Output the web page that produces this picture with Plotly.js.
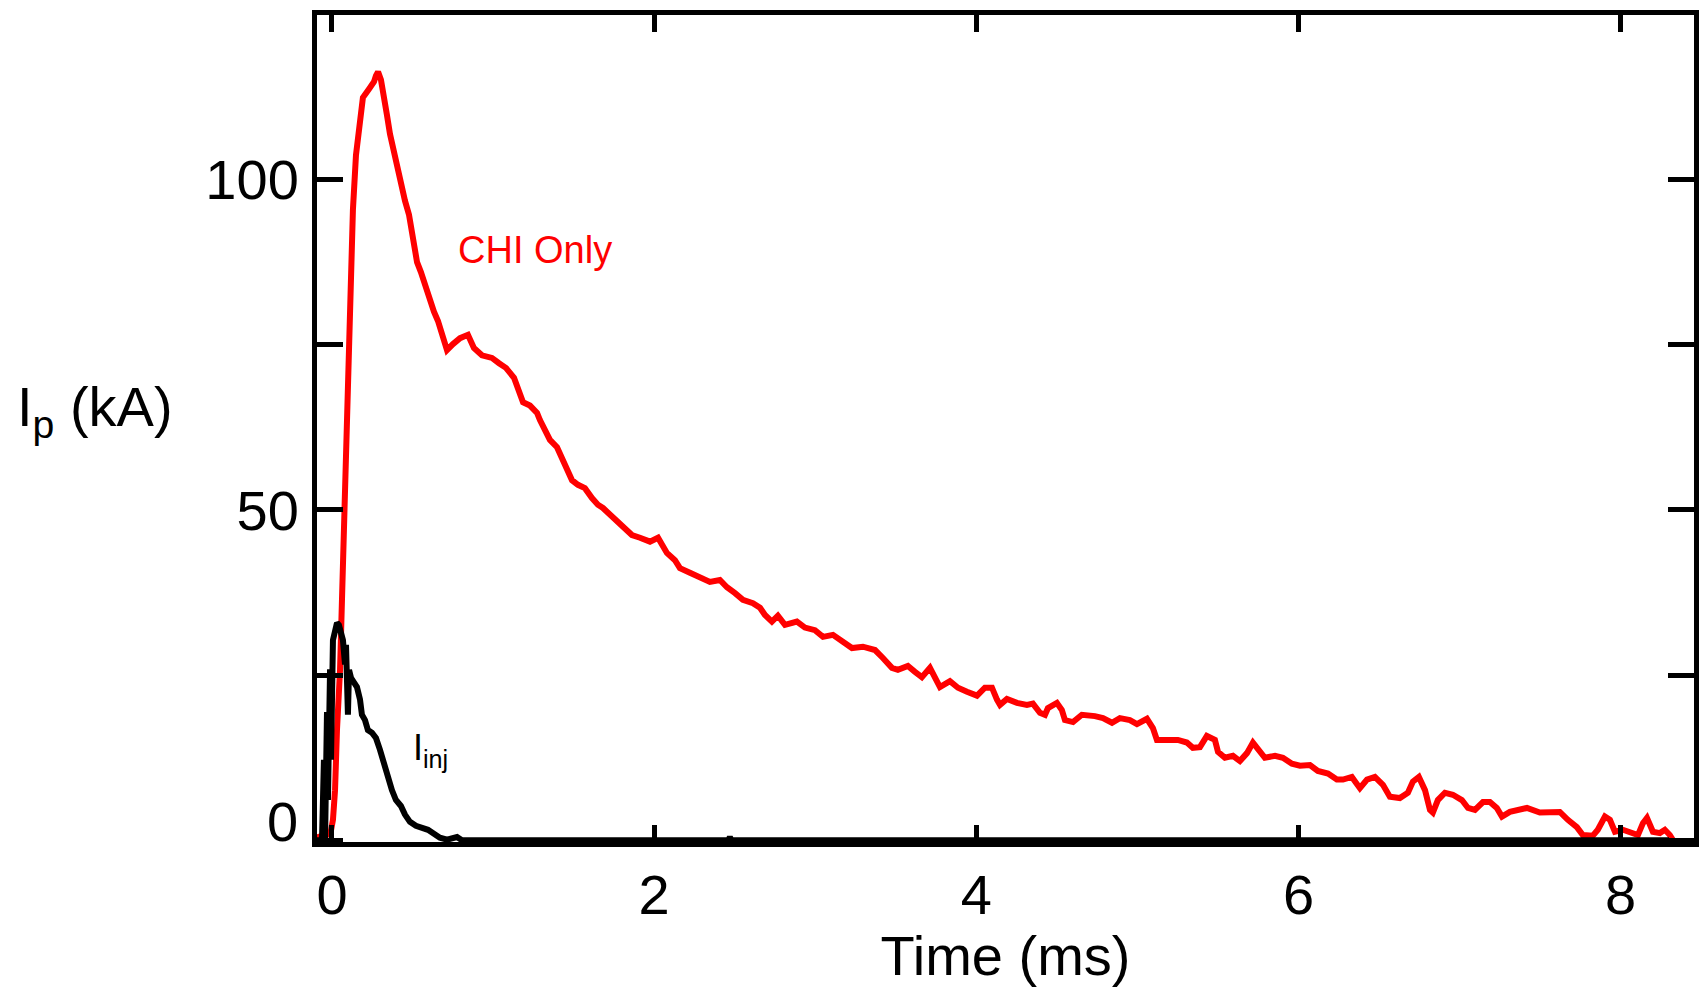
<!DOCTYPE html>
<html>
<head>
<meta charset="utf-8">
<script src="https://cdn.plot.ly/plotly-3.0.1.min.js"></script>
<style>
html,body{margin:0;padding:0;background:#fff;}
#chart{width:1700px;height:987px;}
</style>
</head>
<body>
<div id="chart"></div>
<script>
// CHI Only plasma current (kA) vs time (ms)
const chiTime = [-0.10,-0.06,-0.01,0.006,0.019,0.031,0.05,0.062,0.074,0.087,0.093,0.112,0.13,0.149,0.174,0.192,0.23,0.261,0.273,0.286,0.304,0.323,0.341,0.36,0.385,0.403,0.428,0.453,0.478,0.497,0.515,0.528,0.552,0.577,0.602,0.633,0.658,0.683,0.714,0.751,0.795,0.844,0.881,0.931,0.993,1.037,1.08,1.13,1.167,1.186,1.229,1.273,1.291,1.322,1.353,1.397,1.428,1.459,1.49,1.527,1.57,1.614,1.651,1.682,1.726,1.769,1.806,1.862,1.912,1.974,2.024,2.055,2.079,2.129,2.16,2.222,2.284,2.346,2.408,2.452,2.502,2.551,2.613,2.657,2.688,2.731,2.768,2.812,2.886,2.936,2.998,3.048,3.11,3.153,3.228,3.296,3.371,3.42,3.476,3.513,3.575,3.619,3.662,3.712,3.755,3.774,3.836,3.886,3.942,4.004,4.053,4.097,4.128,4.147,4.19,4.252,4.314,4.351,4.395,4.426,4.444,4.5,4.531,4.55,4.6,4.655,4.736,4.786,4.842,4.891,4.953,4.997,5.059,5.096,5.121,5.183,5.251,5.307,5.344,5.388,5.431,5.481,5.5,5.543,5.593,5.636,5.68,5.717,5.748,5.791,5.854,5.903,5.959,6.009,6.071,6.12,6.183,6.238,6.276,6.331,6.381,6.425,6.474,6.524,6.567,6.629,6.679,6.71,6.747,6.785,6.816,6.834,6.865,6.909,6.958,7.014,7.052,7.095,7.145,7.188,7.231,7.263,7.312,7.418,7.498,7.622,7.672,7.728,7.765,7.827,7.858,7.902,7.933,7.964,8.014,8.07,8.107,8.138,8.163,8.2,8.243,8.274,8.305,8.336];
const chiCurrent = [0.4,0.7,1.0,3.1,7.6,16.7,25.8,36.4,47.0,60.6,69.7,83.0,95.4,103.7,109.0,112.4,113.7,114.8,115.7,116.3,115.1,112.8,109.8,106.9,104.0,102.2,99.2,96.8,94.7,92.4,89.7,87.5,86.0,84.0,81.8,80.0,78.6,76.9,74.2,75.1,76.0,76.5,74.5,73.4,73.0,72.2,71.5,70.0,67.9,66.3,65.8,64.7,63.6,62.1,60.6,59.5,57.9,56.1,54.5,53.8,53.3,51.8,50.8,50.3,49.3,48.5,47.4,46.2,45.8,45.2,45.8,44.7,43.5,42.4,41.2,40.5,39.7,39.1,39.4,38.3,37.4,36.4,35.9,35.2,34.1,33.1,34.0,32.6,33.1,32.2,31.8,30.8,31.1,30.3,29.1,29.3,28.8,27.6,26.1,25.8,26.4,25.5,24.7,26.1,24.3,23.2,24.1,23.1,22.5,21.9,23.1,23.1,21.3,20.5,21.4,20.8,20.5,20.7,19.3,19.0,20.0,20.8,19.7,18.2,17.9,19.0,18.8,18.5,17.8,18.5,18.2,17.6,18.4,17.0,15.2,15.2,15.2,14.8,14.0,14.1,15.8,15.2,13.4,12.5,12.8,12.0,13.2,14.8,13.7,12.5,12.8,12.5,11.6,11.3,11.4,10.5,10.1,9.2,9.2,9.6,7.9,9.2,9.6,8.4,6.6,6.4,7.2,8.9,9.6,7.6,4.6,4.2,6.1,7.2,6.9,6.1,4.9,4.6,5.8,5.8,4.9,3.6,4.3,4.9,4.2,4.3,3.1,2.0,0.8,0.7,1.6,3.6,3.1,1.3,1.6,1.1,0.8,2.6,3.4,1.3,1.1,1.6,0.8,-0.4];

// Injector current I_inj (kA) vs time (ms)
const injTime = [-0.118,-0.062,-0.05,-0.043,-0.031,-0.025,-0.012,-0.006,0.006,0.019,0.031,0.043,0.056,0.068,0.081,0.087,0.099,0.106,0.118,0.137,0.155,0.174,0.186,0.205,0.223,0.248,0.273,0.298,0.323,0.348,0.372,0.397,0.428,0.453,0.484,0.521,0.559,0.596,0.633,0.67,0.714,0.776,0.807,2.46,2.47,2.48,8.3];
const injCurrent = [0,0,12.2,0,19.4,6.1,25.9,12.2,30.3,32.1,32.9,32.6,31.5,30.3,26.6,29.6,19.0,25.8,24.6,24.0,23.2,21.3,19.0,18.2,16.7,16.3,15.5,13.7,11.4,9.6,7.6,6.1,5.2,3.9,2.8,2.2,1.9,1.6,1.0,0.4,0.1,0.5,0,0,0.5,0,0];

const xTickVals = [0,2,4,6,8];
const xTickText = ['0','2','4','6','8'];
const yTickVals = [0,25,50,75,100];
const yTickText = ['','','50','','100'];
const yZeroLabel = '0';

const FONT = 'Liberation Sans, Arial, Helvetica, sans-serif';

const traces = [
  {x: chiTime, y: chiCurrent, type: 'scatter', mode: 'lines',
   line: {color: '#ff0000', width: 6}, hoverinfo: 'skip', showlegend: false},
  {x: injTime, y: injCurrent, type: 'scatter', mode: 'lines',
   line: {color: '#000000', width: 6}, hoverinfo: 'skip', showlegend: false}
];

const layout = {
  width: 1700, height: 987,
  paper_bgcolor: '#ffffff', plot_bgcolor: '#ffffff',
  margin: {l: 317, r: 6, t: 15, b: 145, pad: 0},
  showlegend: false,
  font: {family: FONT, color: '#000000', size: 56},
  xaxis: {
    range: [-0.093, 8.455], autorange: false,
    tickvals: xTickVals, ticktext: xTickText,
    ticks: 'inside', ticklen: 17, tickwidth: 5, tickcolor: '#000',
    showline: true, linewidth: 5, linecolor: '#000', mirror: 'ticks',
    showgrid: false, zeroline: false,
    tickfont: {family: FONT, size: 56, color: '#000'},
    ticklabelstandoff: 0,
    title: {text: 'Time (ms)', font: {family: FONT, size: 56, color: '#000'}, standoff: 20}
  },
  yaxis: {
    range: [-0.25, 124.9], autorange: false,
    tickvals: yTickVals, ticktext: yTickText,
    ticks: 'inside', ticklen: 26, tickwidth: 5, tickcolor: '#000',
    showline: true, linewidth: 5, linecolor: '#000', mirror: 'ticks',
    showgrid: false, zeroline: false,
    tickfont: {family: FONT, size: 56, color: '#000'},
    ticklabelstandoff: 2
  },
  annotations: [
    {text: 'CHI Only', x: 0.77, y: 89.4, xref: 'x', yref: 'y', xanchor: 'left', yanchor: 'middle',
     showarrow: false, font: {family: FONT, size: 38, color: '#ff0000'}},
    {text: 'I<sub>inj</sub>', x: 0.49, y: 13.6, xref: 'x', yref: 'y', xanchor: 'left', yanchor: 'middle',
     showarrow: false, font: {family: FONT, size: 36, color: '#000'}},
    {text: 'I<sub>p</sub> (kA)', x: -0.2195, y: 65, xref: 'paper', yref: 'y', xanchor: 'left', yanchor: 'middle',
     showarrow: false, font: {family: FONT, size: 56, color: '#000'}},
    {text: yZeroLabel, x: -0.0125, y: 2.8, xref: 'paper', yref: 'y', xanchor: 'right', yanchor: 'middle',
     showarrow: false, font: {family: FONT, size: 56, color: '#000'}}
  ]
};

Plotly.newPlot('chart', traces, layout, {staticPlot: true, displayModeBar: false});
</script>
</body>
</html>
